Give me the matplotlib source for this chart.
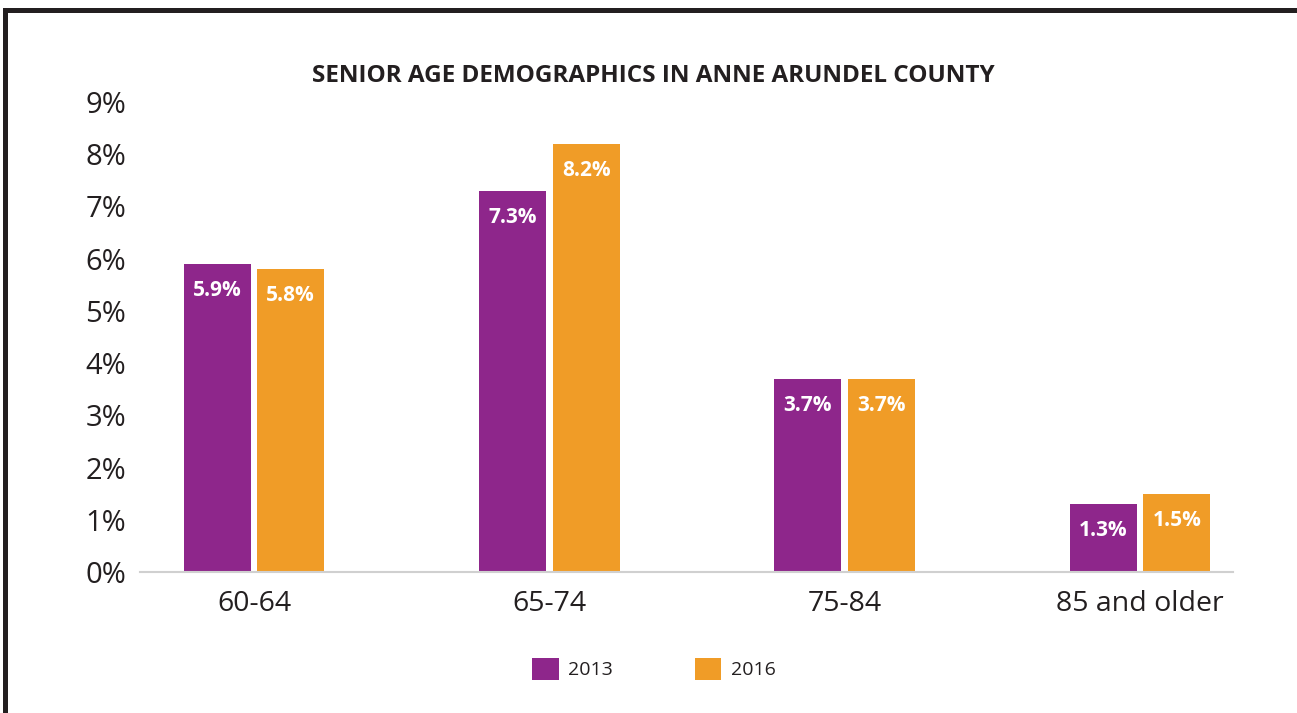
import numpy as np
import matplotlib.pyplot as plt
from matplotlib.patches import Rectangle

categories = ["60-64", "65-74", "75-84", "85 and older"]
vals_2013 = [5.9, 7.3, 3.7, 1.3]
vals_2016 = [5.8, 8.2, 3.7, 1.5]
years = ["2013", "2016"]
yticks = list(range(0, 10))

purple = "#8e268b"
orange = "#f09c27"
dark = "#231f20"

plt.rcParams['font.family'] = ['Open Sans', 'DejaVu Sans']

W, H = 1297, 713
fig = plt.figure(figsize=(W / 100, H / 100), dpi=100)
ax = fig.add_axes([140 / W, 1 - 572 / H, (1233 - 140) / W, (572 - 102) / H])

x = np.arange(len(categories))
bw = 0.227
off = 0.1246
b1 = ax.bar(x - off, vals_2013, bw, color=purple, label=years[0])
b2 = ax.bar(x + off, vals_2016, bw, color=orange, label=years[1])

for bars, vals in [(b1, vals_2013), (b2, vals_2016)]:
    for r, v in zip(bars, vals):
        ax.annotate(f"{v}%", (r.get_x() + r.get_width() / 2, v),
                    xytext=(0, -19), textcoords="offset points",
                    ha="center", va="center", color="white",
                    fontsize=15, fontweight="bold")

ax.set_xlim(-0.386, 3.315)
ax.set_ylim(0, 9)
ax.set_yticks(yticks)
ax.set_yticklabels([f"{t}%" for t in yticks])
ax.set_xticks(x)
ax.set_xticklabels(categories)
ax.tick_params(axis="both", length=0, colors=dark)
ax.tick_params(axis="y", labelsize=21, pad=10)
ax.tick_params(axis="x", labelsize=20.5, pad=13)
for s in ["top", "right", "left"]:
    ax.spines[s].set_visible(False)
ax.spines["bottom"].set_color("#d0d0d0")
ax.spines["bottom"].set_linewidth(1.5)

fig.text(653 / W, 1 - 76 / H, "SENIOR AGE DEMOGRAPHICS IN ANNE ARUNDEL COUNTY",
         ha="center", va="center", fontsize=17.5, fontweight="bold", color=dark)

leg = fig.legend(loc="center", bbox_to_anchor=(654 / W, 1 - 669 / H), ncol=2,
                 frameon=False, fontsize=14, handlelength=1.35, handleheight=1.35,
                 columnspacing=4.2, handletextpad=0.5, labelcolor=dark)

# border on left and top
fig.add_artist(Rectangle((3 / W, 0), 5 / W, 1 - 8 / H, transform=fig.transFigure,
                         color=dark, lw=0))
fig.add_artist(Rectangle((3 / W, 1 - 13 / H), 1, 5 / H, transform=fig.transFigure,
                         color=dark, lw=0))

fig.savefig("out.png", dpi=100)
